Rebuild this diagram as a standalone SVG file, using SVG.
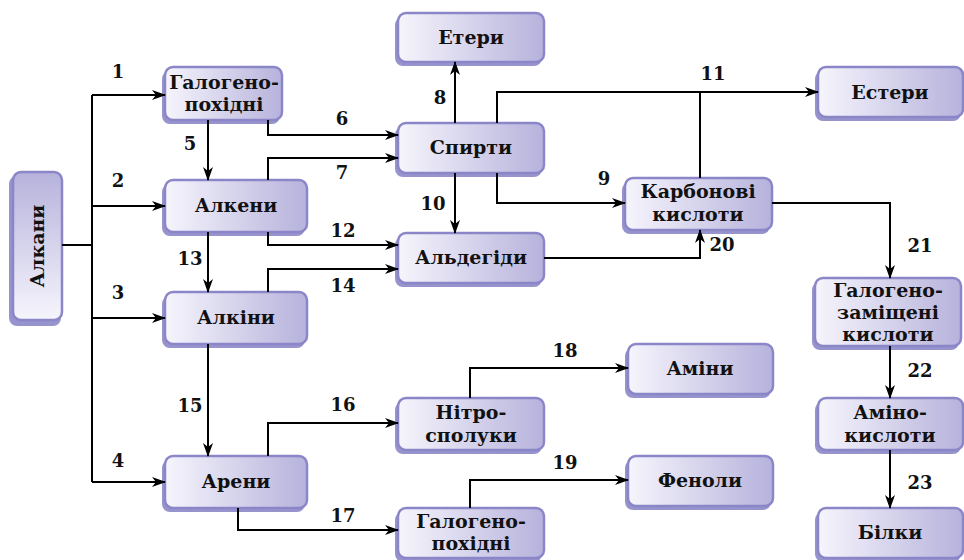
<svg xmlns="http://www.w3.org/2000/svg" width="964" height="560" viewBox="0 0 964 560">
<defs>
<linearGradient id="g" x1="0" y1="0" x2="1" y2="0">
<stop offset="0" stop-color="#f6f5fc"/>
<stop offset="1" stop-color="#b6b2dc"/>
</linearGradient>
<linearGradient id="gv" x1="0" y1="1" x2="0" y2="0">
<stop offset="0" stop-color="#f6f5fc"/>
<stop offset="1" stop-color="#b6b2dc"/>
</linearGradient>
<marker id="a" viewBox="0 0 14 10" refX="13" refY="5" markerWidth="14" markerHeight="10" markerUnits="userSpaceOnUse" orient="auto">
<path d="M0,0 L14,5 L0,10 L4,5 Z" fill="#000"/>
</marker>
</defs>
<style>
.sh{fill:#9793cd}
.bx{fill:url(#g);stroke:#8a86c8;stroke-width:2.5}
.t{font-family:"DejaVu Serif","Liberation Serif",serif;font-weight:bold;font-size:19px;text-anchor:middle;fill:#111}
.n{font-family:"DejaVu Serif","Liberation Serif",serif;font-weight:bold;font-size:18px;text-anchor:middle;fill:#111}
.c{fill:none;stroke:#000;stroke-width:2}
.ar{marker-end:url(#a)}
</style>
<rect width="964" height="560" fill="#fff"/>

<g id="alkany"><rect class="sh" x="9" y="176" width="52" height="150" rx="8"/><rect x="13" y="172" width="49" height="148" rx="8" fill="url(#gv)" stroke="#8a86c8" stroke-width="2.5"/><text class="t" transform="translate(44,246) rotate(-90)">Алкани</text></g>

<g id="halo1"><rect class="sh" x="162" y="71" width="118" height="53" rx="8"/><rect class="bx" x="165" y="67" width="117" height="53" rx="8"/><text class="t" x="224" y="89">Галогено-</text><text class="t" x="224" y="111">похідні</text></g>
<g id="alkeny"><rect class="sh" x="162" y="184" width="143" height="52" rx="8"/><rect class="bx" x="165" y="180" width="142" height="52" rx="8"/><text class="t" x="236" y="212">Алкени</text></g>
<g id="alkiny"><rect class="sh" x="162" y="296" width="143" height="52" rx="8"/><rect class="bx" x="165" y="292" width="142" height="52" rx="8"/><text class="t" x="236" y="324">Алкіни</text></g>
<g id="areny"><rect class="sh" x="162" y="460" width="143" height="52" rx="8"/><rect class="bx" x="165" y="456" width="142" height="52" rx="8"/><text class="t" x="236" y="488">Арени</text></g>

<g id="etery"><rect class="sh" x="395" y="17" width="147" height="49" rx="8"/><rect class="bx" x="398" y="13" width="146" height="49" rx="8"/><text class="t" x="471" y="44">Етери</text></g>
<g id="spyrty"><rect class="sh" x="395" y="127" width="147" height="50" rx="8"/><rect class="bx" x="398" y="123" width="146" height="50" rx="8"/><text class="t" x="471" y="154">Спирти</text></g>
<g id="aldehidy"><rect class="sh" x="395" y="237" width="147" height="50" rx="8"/><rect class="bx" x="398" y="233" width="146" height="50" rx="8"/><text class="t" x="471" y="264">Альдегіди</text></g>
<g id="nitro"><rect class="sh" x="395" y="402" width="147" height="52" rx="8"/><rect class="bx" x="398" y="398" width="146" height="52" rx="8"/><text class="t" x="471" y="419">Нітро-</text><text class="t" x="471" y="442">сполуки</text></g>
<g id="halo2"><rect class="sh" x="395" y="512" width="147" height="50" rx="8"/><rect class="bx" x="398" y="508" width="146" height="50" rx="8"/><text class="t" x="471" y="528">Галогено-</text><text class="t" x="471" y="550">похідні</text></g>

<g id="aminy"><rect class="sh" x="625" y="348" width="146" height="50" rx="8"/><rect class="bx" x="628" y="344" width="145" height="50" rx="8"/><text class="t" x="700" y="375">Аміни</text></g>
<g id="fenoly"><rect class="sh" x="625" y="460" width="146" height="50" rx="8"/><rect class="bx" x="628" y="456" width="145" height="50" rx="8"/><text class="t" x="700" y="487">Феноли</text></g>
<g id="karbon"><rect class="sh" x="622" y="182" width="148" height="52" rx="8"/><rect class="bx" x="625" y="178" width="147" height="52" rx="8"/><text class="t" x="698" y="198">Карбонові</text><text class="t" x="698" y="221">кислоти</text></g>

<g id="estery"><rect class="sh" x="815" y="71" width="146" height="50" rx="8"/><rect class="bx" x="818" y="67" width="145" height="50" rx="8"/><text class="t" x="890" y="99">Естери</text></g>
<g id="halozam"><rect class="sh" x="812" y="282" width="147" height="68" rx="8"/><rect class="bx" x="815" y="278" width="146" height="68" rx="8"/><text class="t" x="888" y="297">Галогено-</text><text class="t" x="888" y="319">заміщені</text><text class="t" x="888" y="341">кислоти</text></g>
<g id="aminokysl"><rect class="sh" x="815" y="402" width="146" height="52" rx="8"/><rect class="bx" x="818" y="398" width="145" height="52" rx="8"/><text class="t" x="890" y="419">Аміно-</text><text class="t" x="890" y="442">кислоти</text></g>
<g id="bilky"><rect class="sh" x="815" y="512" width="146" height="50" rx="8"/><rect class="bx" x="818" y="508" width="145" height="50" rx="8"/><text class="t" x="890" y="539">Білки</text></g>

<g id="connectors">
<path class="c" d="M62,245 H92 M92,95 V482"/>
<path class="c ar" d="M92,95 H165"/>
<path class="c ar" d="M92,206 H165"/>
<path class="c ar" d="M92,318 H165"/>
<path class="c ar" d="M92,482 H165"/>
<path class="c ar" d="M208,120 V180"/>
<path class="c ar" d="M268,120 V135 H398"/>
<path class="c ar" d="M268,180 V158 H398"/>
<path class="c ar" d="M455,123 V62"/>
<path class="c ar" d="M455,173 V233"/>
<path class="c ar" d="M497,123 V92 H818"/>
<path class="c" d="M700,178 V92"/>
<path class="c ar" d="M497,173 V203 H625"/>
<path class="c ar" d="M268,232 V245 H398"/>
<path class="c ar" d="M268,292 V269 H398"/>
<path class="c ar" d="M208,232 V292"/>
<path class="c ar" d="M544,258 H700 V230"/>
<path class="c ar" d="M772,203 H890 V278"/>
<path class="c ar" d="M890,346 V398"/>
<path class="c ar" d="M890,450 V508"/>
<path class="c ar" d="M208,344 V456"/>
<path class="c ar" d="M268,456 V423 H398"/>
<path class="c ar" d="M238,508 V530 H398"/>
<path class="c ar" d="M470,398 V368 H628"/>
<path class="c ar" d="M470,508 V480 H628"/>
</g>

<g id="labels">
<text class="n" x="118" y="78">1</text>
<text class="n" x="118" y="187">2</text>
<text class="n" x="118" y="299">3</text>
<text class="n" x="118" y="467">4</text>
<text class="n" x="190" y="150">5</text>
<text class="n" x="342" y="125">6</text>
<text class="n" x="342" y="179">7</text>
<text class="n" x="440" y="104">8</text>
<text class="n" x="604" y="185">9</text>
<text class="n" x="433" y="210">10</text>
<text class="n" x="713" y="80">11</text>
<text class="n" x="343" y="237">12</text>
<text class="n" x="190" y="265">13</text>
<text class="n" x="343" y="292">14</text>
<text class="n" x="190" y="412">15</text>
<text class="n" x="343" y="411">16</text>
<text class="n" x="343" y="522">17</text>
<text class="n" x="565" y="357">18</text>
<text class="n" x="565" y="469">19</text>
<text class="n" x="722" y="251">20</text>
<text class="n" x="920" y="252">21</text>
<text class="n" x="920" y="377">22</text>
<text class="n" x="920" y="489">23</text>
</g>
</svg>
